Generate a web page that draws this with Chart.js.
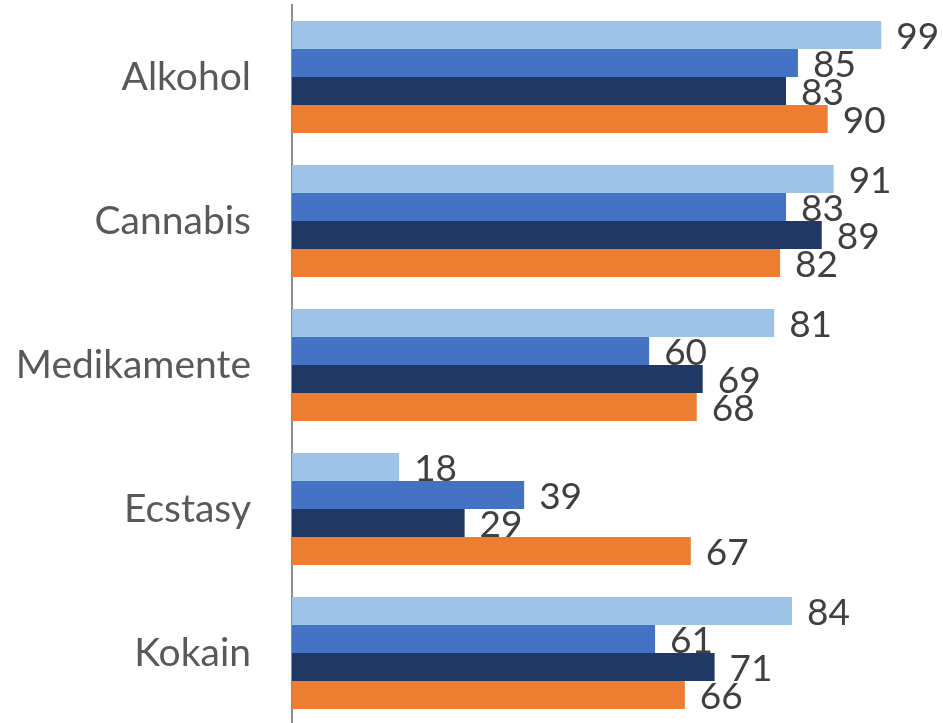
<!DOCTYPE html>
<html>
<head>
<meta charset="utf-8">
<script src="https://cdn.jsdelivr.net/npm/chart.js@4"></script>
<style>
  html, body { margin: 0; padding: 0; background: #fff; overflow: hidden; }
  canvas { display: block; }
</style>
</head>
<body>
<canvas id="drogen-chart" width="943" height="725"></canvas>
<script>
// DATEN
const kategorien = ["Alkohol", "Cannabis", "Medikamente", "Ecstasy", "Kokain"];
const serie1 = [99, 91, 81, 18, 84];
const serie2 = [85, 83, 60, 39, 61];
const serie3 = [83, 89, 69, 29, 71];
const serie4 = [90, 82, 68, 67, 66];
const farben = ["#9DC3E6", "#4472C4", "#203864", "#ED7D31"];

const schrift = "Lato, 'Open Sans', sans-serif";

// Werte rechts neben den Balken
const wertLabels = {
  id: "wertLabels",
  afterDatasetsDraw(chart) {
    const ctx = chart.ctx;
    ctx.save();
    ctx.font = "37px " + schrift;
    ctx.fillStyle = "#404040";
    ctx.textAlign = "left";
    ctx.textBaseline = "middle";
    chart.data.datasets.forEach((ds, i) => {
      chart.getDatasetMeta(i).data.forEach((bar, j) => {
        ctx.fillText(ds.data[j], bar.x + 15, bar.y + 2);
      });
    });
    ctx.restore();
  },
};

const data = {
  labels: kategorien,
  datasets: [serie1, serie2, serie3, serie4].map((werte, i) => ({
    data: werte,
    backgroundColor: farben[i],
    borderWidth: 0,
    categoryPercentage: 0.778,
    barPercentage: 1,
  })),
};

const config = {
  type: "bar",
  data: data,
  options: {
    indexAxis: "y",
    responsive: false,
    animation: false,
    layout: { padding: { top: 5, right: 4, bottom: 0, left: 0 } },
    scales: {
      x: {
        display: false,
        min: 0,
        max: 108.7,
      },
      y: {
        afterFit: (scale) => {
          scale.width = 292;
          scale.paddingTop = 0;
          scale.paddingBottom = 0;
        },
        grid: { display: false, drawTicks: false },
        border: { display: true, color: "#8C8C8C", width: 2 },
        ticks: {
          padding: 41,
          color: "#595959",
          font: { family: schrift, size: 39 },
        },
      },
    },
    plugins: {
      legend: { display: false },
      tooltip: { enabled: false },
    },
  },
  plugins: [wertLabels],
};

const myChart = new Chart(document.getElementById("drogen-chart"), config);
</script>
</body>
</html>
